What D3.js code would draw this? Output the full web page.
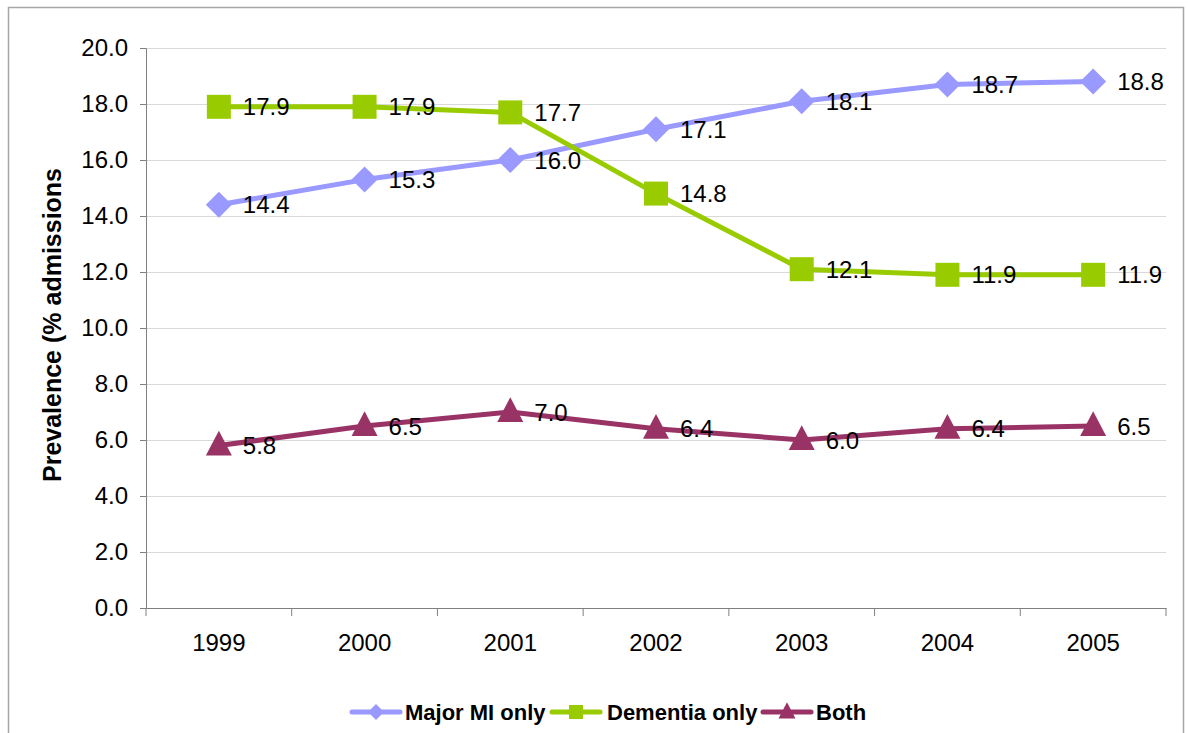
<!DOCTYPE html>
<html><head><meta charset="utf-8">
<script src="https://cdn.jsdelivr.net/npm/d3@7"></script>
<style>body{margin:0;background:#fff}svg{display:block}text{font-family:"Liberation Sans",Arial,sans-serif}</style>
</head><body>
<svg id="c" width="1188" height="733"></svg>
<script>
const years = ["1999","2000","2001","2002","2003","2004","2005"];
const majorMI = [14.4,15.3,16.0,17.1,18.1,18.7,18.8];
const dementia = [17.9,17.9,17.7,14.8,12.1,11.9,11.9];
const both = [5.8,6.5,7.0,6.4,6.0,6.4,6.5];
const yTicks = [0,2,4,6,8,10,12,14,16,18,20];
const seriesNames = ["Major MI only","Dementia only","Both"];
const colors = ["#9999FF","#99CC00","#993366"];
const markers = ["diamond","square","triangle"];

const svg = d3.select("#c");
const L=146, R=1166, T=48, B=608;
const x = d3.scaleBand().domain(years).range([L,R]);
const y = d3.scaleLinear().domain([0,20]).range([B,T]);

// outer frame
svg.append("rect").attr("x",8.5).attr("y",7.5).attr("width",1175).attr("height",740)
  .attr("fill","none").attr("stroke","#a6a6a6").attr("stroke-width",1.5);

// gridlines
svg.append("g").selectAll("line").data(yTicks.filter(d=>d>0)).join("line")
  .attr("x1",L).attr("x2",R).attr("y1",d=>y(d)+0.5).attr("y2",d=>y(d)+0.5)
  .attr("stroke","#d9d9d9").attr("stroke-width",1);

// y axis
const ya = svg.append("g").attr("transform",`translate(${L},0)`)
  .call(d3.axisLeft(y).tickValues(yTicks).tickFormat(d3.format(".1f")).tickSize(6).tickPadding(12));
ya.select(".domain").attr("stroke","#808080");
ya.selectAll(".tick line").attr("stroke","#808080");
ya.selectAll("text").attr("font-size",24).attr("fill","#000").attr("font-family","Liberation Sans, Arial");

// x axis
const xa = svg.append("g").attr("transform",`translate(0,${B})`)
  .call(d3.axisBottom(x).tickSize(0).tickPadding(26));
xa.select(".domain").attr("stroke","#808080");
xa.selectAll("text").attr("font-size",24).attr("fill","#000").attr("font-family","Liberation Sans, Arial");
const bounds = years.map(d=>x(d)).concat([R]);
svg.append("g").selectAll("line").data(bounds).join("line")
  .attr("x1",d=>d).attr("x2",d=>d).attr("y1",B).attr("y2",B+8).attr("stroke","#808080");

// y title
svg.append("text").attr("transform","translate(61,325) rotate(-90)")
  .attr("text-anchor","middle").attr("font-size",25).attr("font-weight","bold")
  .text("Prevalence (% admissions");

function drawMarker(g, type, cx, cy, s, color){
  if(type==="diamond"){
    g.append("path").attr("d",`M${cx},${cy-s/2}L${cx+s/2},${cy}L${cx},${cy+s/2}L${cx-s/2},${cy}Z`).attr("fill",color);
  } else if(type==="square"){
    g.append("rect").attr("x",cx-s/2).attr("y",cy-s/2).attr("width",s).attr("height",s).attr("fill",color);
  } else {
    const h=s*0.95;
    g.append("path").attr("d",`M${cx},${cy-h*0.6}L${cx+s/2},${cy+h*0.4}L${cx-s/2},${cy+h*0.4}Z`).attr("fill",color);
  }
}

const allSeries=[majorMI,dementia,both];
const line = d3.line().x((d,i)=>x(years[i])+x.bandwidth()/2).y(d=>y(d));
allSeries.forEach((vals,k)=>{
  const g=svg.append("g");
  g.append("path").datum(vals).attr("d",line).attr("fill","none")
    .attr("stroke",colors[k]).attr("stroke-width",5).attr("stroke-linejoin","round");
  vals.forEach((v,i)=>{
    const cx=x(years[i])+x.bandwidth()/2, cy=y(v);
    drawMarker(g, markers[k], cx, cy, [26,24,26][k], colors[k]);
  });
});
// labels on top
allSeries.forEach((vals,k)=>{
  svg.append("g").selectAll("text").data(vals).join("text")
    .attr("x",(d,i)=>x(years[i])+x.bandwidth()/2+24)
    .attr("y",d=>y(d)+8.5).attr("font-size",24).attr("fill","#000")
    .text(d=>d.toFixed(1));
});

// legend
const legX=[352,552,763], legText=[405,607,816], legY=712;
seriesNames.forEach((n,k)=>{
  const g=svg.append("g");
  g.append("line").attr("x1",legX[k]).attr("x2",legX[k]+48).attr("y1",legY).attr("y2",legY)
    .attr("stroke",colors[k]).attr("stroke-width",5).attr("stroke-linecap","round");
  drawMarker(g, markers[k], legX[k]+24, legY, [16,14,17][k], colors[k]);
  g.append("text").attr("x",legText[k]).attr("y",legY+8).attr("font-size",22)
    .attr("font-weight","bold").text(n);
});
</script>
</body></html>
